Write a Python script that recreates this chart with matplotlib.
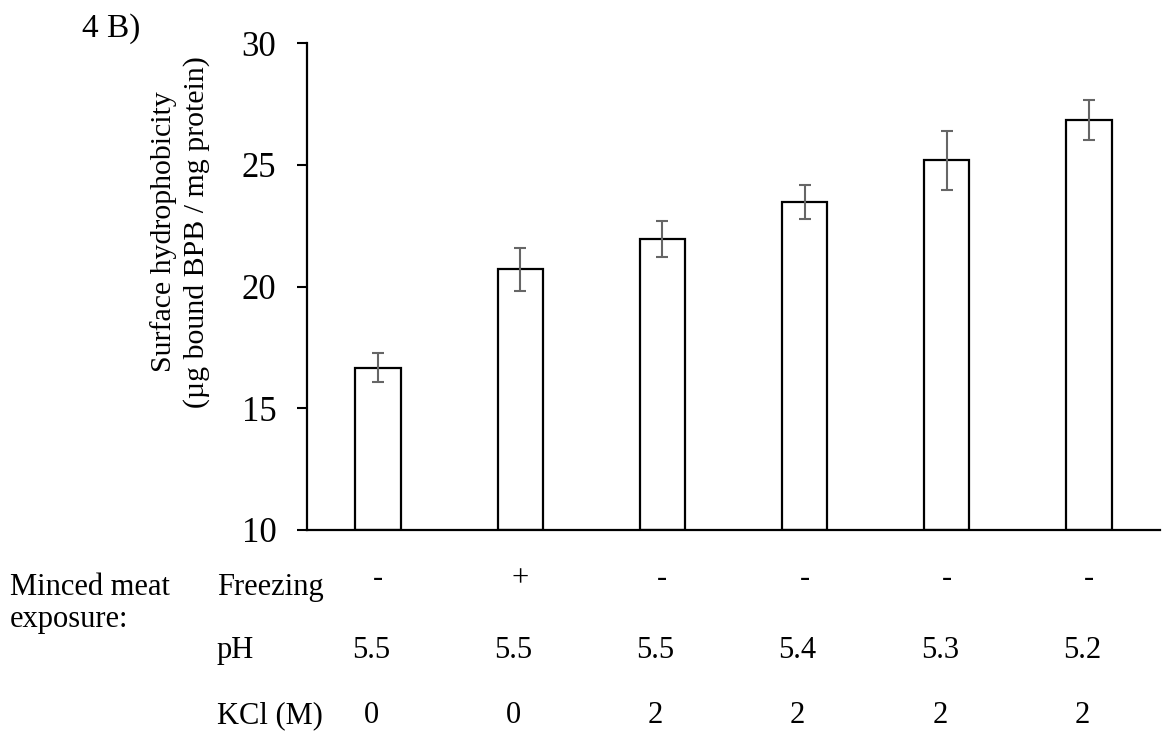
import matplotlib
matplotlib.use("Agg")
import matplotlib.pyplot as plt

# data
means = [16.67, 20.7, 21.95, 23.48, 25.18, 26.82]
errors = [0.6, 0.9, 0.75, 0.7, 1.2, 0.82]
freezing = ["-", "+", "-", "-", "-", "-"]
ph_values = ["5.5", "5.5", "5.5", "5.4", "5.3", "5.2"]
kcl_values = ["0", "0", "2", "2", "2", "2"]
yticks = [10, 15, 20, 25, 30]

plt.rcParams['font.family'] = ['Liberation Serif', 'DejaVu Serif']

W, H = 1165, 731
fig = plt.figure(figsize=(W / 100, H / 100), dpi=100)
ax = fig.add_axes([307 / W, 1 - 530 / H, (1160 - 307) / W, (530 - 43) / H])

x = list(range(len(means)))
ax.bar(x, [m - 10 for m in means], bottom=10, width=0.32, color='white',
       edgecolor='black', linewidth=1.6, zorder=2)
ax.errorbar(x, means, yerr=errors, fmt='none', ecolor='#666666',
            elinewidth=1.5, capsize=4.5, capthick=1.5, zorder=3)

ax.set_xlim(-0.5, 5.5)
ax.set_ylim(10, 30)
ax.set_yticks(yticks)
ax.set_xticks([])
ax.tick_params(axis='y', labelsize=25, length=7, width=1.5, pad=15, direction='out')
for s in ['top', 'right']:
    ax.spines[s].set_visible(False)
for s in ['left', 'bottom']:
    ax.spines[s].set_linewidth(1.6)

fig.text(180 / W, 1 - 232 / H, "Surface hydrophobicity\n(\u00b5g bound BPB / mg protein)",
         rotation=90, ha='center', va='center', fontsize=21.5, linespacing=1.3,
         multialignment='center')
fig.text(82 / W, 1 - 37 / H, "4 B)", ha='left', va='baseline', fontsize=24)

# treatment table under the bars
tfs = 22
def fy(py):
    return 1 - py / H

fig.text(10 / W, fy(595), "Minced meat", ha='left', va='baseline', fontsize=tfs)
fig.text(10 / W, fy(627), "exposure:", ha='left', va='baseline', fontsize=tfs)
fig.text(217 / W, fy(595), "Freezing", ha='left', va='baseline', fontsize=tfs)
fig.text(217 / W, fy(658), "pH", ha='left', va='baseline', fontsize=tfs)
fig.text(217 / W, fy(723), "KCl (M)", ha='left', va='baseline', fontsize=tfs)

for i in x:
    xd = ax.transData.transform((i, 10))[0] / W
    fig.text(xd, fy(586), freezing[i], ha='center', va='baseline', fontsize=tfs)
    fig.text(xd - 0.006, fy(658), ph_values[i], ha='center', va='baseline', fontsize=tfs)
    fig.text(xd - 0.006, fy(723), kcl_values[i], ha='center', va='baseline', fontsize=tfs)

fig.savefig("out.png", dpi=100)
